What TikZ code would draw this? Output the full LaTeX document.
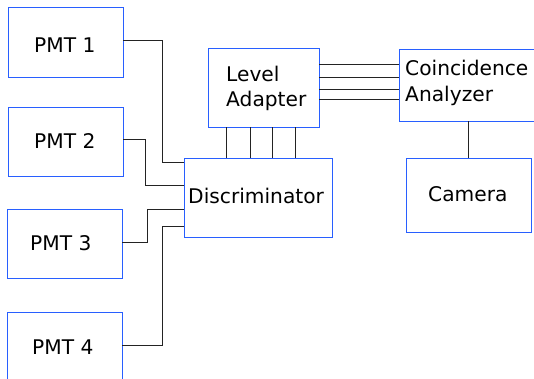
\documentclass[tikz,border=0pt]{standalone}
\usepackage{fontspec}
\setmainfont{DejaVu Sans}
\definecolor{boxblue}{RGB}{40,95,255}
\definecolor{wirecol}{RGB}{35,35,35}
\tikzset{
  box/.style={draw=boxblue, line width=0.9pt, rectangle, inner sep=0pt},
  lbl/.style={inner sep=0pt, anchor=base west, font=\fontsize{20.2}{25}\selectfont, text=black},
  wire/.style={draw=wirecol, line width=0.9pt}
}
\begin{document}
\begin{tikzpicture}[x=1pt,y=-1pt]
\useasboundingbox (0,0) rectangle (534,379);
\clip (0,0) rectangle (534,379);
% boxes
\node[box, minimum width=115pt, minimum height=70pt] (p1) at (65.5,42) {};
\node[box, minimum width=115pt, minimum height=69pt] (p2) at (65.5,141.5) {};
\node[box, minimum width=115pt, minimum height=69pt] (p3) at (64.5,243.5) {};
\node[box, minimum width=115pt, minimum height=70pt] (p4) at (64.5,347) {};
\node[box, minimum width=148pt, minimum height=79pt] (disc) at (258,197.5) {};
\node[box, minimum width=111pt, minimum height=79pt] (la) at (263.5,87.5) {};
\node[box, minimum width=137pt, minimum height=72pt] (ca) at (467.5,85) {};
\node[box, minimum width=125pt, minimum height=74pt] (cam) at (468.5,195) {};
% labels
\node[lbl] (t1) at (34,53) {PMT 1};
\node[lbl] (t2) at (34,149) {PMT 2};
\node[lbl] (t3) at (30,250) {PMT 3};
\node[lbl] (t4) at (32,354) {PMT 4};
\node[lbl] (td) at (188,203) {Discriminator};
\node[lbl] (tc) at (428,201) {Camera};
\node[lbl] (tl1) at (226,82) {Level};
\node[lbl] (tl2) at (226,107) {Adapter};
\node[lbl] (ta1) at (405,76) {Coincidence};
\node[lbl] (ta2) at (405,102) {Analyzer};
% wires
\draw[wire] (p1.east |- 0,40) -| (162,162) -- (disc.west |- 0,162);
\draw[wire] (p2.east |- 0,139) -| (145,185) -- (disc.west |- 0,185);
\draw[wire] (p3.east |- 0,242) -| (147,209) -- (disc.west |- 0,209);
\draw[wire] (p4.east |- 0,345) -| (162,226) -- (disc.west |- 0,226);
\foreach \xx in {226,250,272,295} \draw[wire] (la.south -| \xx,0) -- (disc.north -| \xx,0);
\foreach \yy in {64,77,89,99} \draw[wire] (la.east |- 0,\yy) -- (ca.west |- 0,\yy);
\draw[wire] (ca.south -| 468,0) -- (cam.north -| 468,0);
\end{tikzpicture}
\end{document}
